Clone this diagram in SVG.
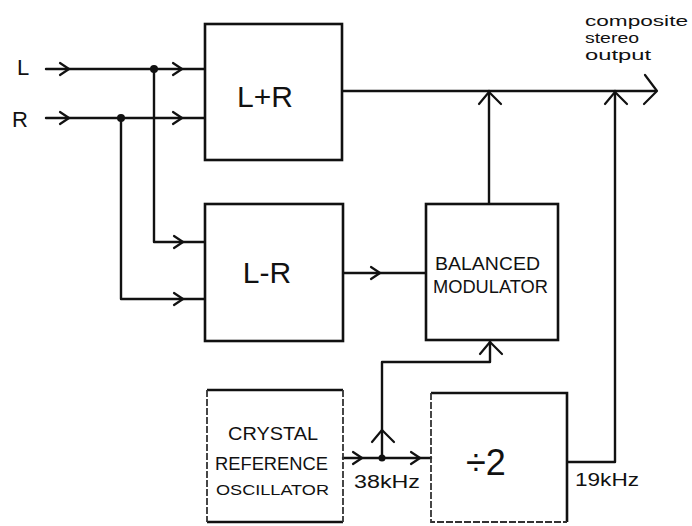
<svg xmlns="http://www.w3.org/2000/svg" width="692" height="526" viewBox="0 0 692 526">
<style>
.box{fill:#fff;stroke:#111;stroke-width:2.6;stroke-linejoin:miter}
.faint{fill:none;stroke:#333;stroke-width:1.8;stroke-dasharray:7 2}
.ln{fill:none;stroke:#111;stroke-width:2.4;stroke-linecap:round;stroke-linejoin:round}
.ch{fill:none;stroke:#111;stroke-width:2.2;stroke-linecap:round;stroke-linejoin:round}
.dot{fill:#111}
text{font-family:"Liberation Sans","DejaVu Sans",sans-serif;fill:#111}
.big{font-size:30px}
.lab{font-size:18px}
.hand{font-size:18px}
.cap{font-size:14px}
</style>
<defs>
<path id="chR" d="M-9,-6 L0,0 L-9,6" class="ch"/>
<path id="chU" d="M-10,12 L0,0 L12,12" class="ch"/>
</defs>

<g id="connectors">
<path class="ln" d="M46,69 L205,69"/>
<path class="ln" d="M154,69 L154,242 L205,242"/>
<path class="ln" d="M46,118 L205,118"/>
<path class="ln" d="M121,118 L121,299 L205,299"/>
<circle class="dot" cx="154" cy="69" r="4"/>
<circle class="dot" cx="121" cy="118" r="4"/>
<use href="#chR" x="69" y="69"/>
<use href="#chR" x="69" y="118"/>
<use href="#chR" x="182" y="69"/>
<use href="#chR" x="182" y="118"/>
<use href="#chR" x="183" y="242"/>
<use href="#chR" x="183" y="299"/>
<path class="ln" d="M342,91 L656,91"/>
<path class="ch" d="M645,75 L657,91 L644,104"/>
<path class="ln" d="M489,204 L489,91"/>
<use href="#chU" x="489" y="92"/>
<path class="ln" d="M567,462 L615,462 L615,91"/>
<use href="#chU" x="615" y="92"/>
<path class="ln" d="M343,273 L426,273"/>
<use href="#chR" x="380" y="273"/>
<path class="ln" d="M343,458 L431,458"/>
<use href="#chR" x="362" y="458"/>
<use href="#chR" x="420" y="458"/>
<circle class="dot" cx="382" cy="458" r="3.5"/>
<path class="ln" d="M382,458 L382,362 L490,362 L490,341"/>
<use href="#chU" x="382" y="430"/>
<use href="#chU" x="490" y="342"/>
</g>

<g id="input-L"><text x="17" y="75" font-size="22">L</text></g>
<g id="input-R"><text x="12" y="127" font-size="22">R</text></g>

<g id="node-LplusR">
<rect class="box" x="205" y="24" width="137" height="136"/>
<text class="big" x="265" y="107" text-anchor="middle">L+R</text>
</g>

<g id="node-LminusR">
<rect class="box" x="205" y="204" width="138" height="137"/>
<text class="big" x="267" y="283" text-anchor="middle">L-R</text>
</g>

<g id="node-balanced-modulator">
<rect class="box" x="426" y="204" width="132" height="136"/>
<text class="lab" x="435" y="270" textLength="105" lengthAdjust="spacingAndGlyphs">BALANCED</text>
<text class="lab" x="433" y="293" textLength="115" lengthAdjust="spacingAndGlyphs">MODULATOR</text>
</g>

<g id="node-crystal-oscillator">
<path class="box" d="M207,390 L343,390" fill="none"/>
<path class="box" d="M207,522 L343,522" fill="none"/>
<path class="faint" d="M207,390 L207,522 M343,390 L343,522"/>
<text class="lab" x="228" y="440" textLength="90" lengthAdjust="spacingAndGlyphs">CRYSTAL</text>
<text class="lab" x="215" y="470" textLength="113" lengthAdjust="spacingAndGlyphs">REFERENCE</text>
<text x="216" y="495" font-size="15" textLength="113" lengthAdjust="spacingAndGlyphs">OSCILLATOR</text>
</g>

<g id="node-divider">
<path class="box" d="M431,393 L567,393 L567,522" fill="none"/>
<path class="faint" d="M431,393 L431,522 L567,522"/>
<text x="486" y="475" font-size="36" text-anchor="middle">÷2</text>
</g>

<g id="labels">
<text class="hand" x="354" y="488" textLength="66" lengthAdjust="spacingAndGlyphs">38kHz</text>
<text class="hand" x="575" y="486" textLength="64" lengthAdjust="spacingAndGlyphs">19kHz</text>
<text class="cap" x="585" y="26" textLength="103" lengthAdjust="spacingAndGlyphs">composite</text>
<text class="cap" x="585" y="43" textLength="54" lengthAdjust="spacingAndGlyphs">stereo</text>
<text class="cap" x="585" y="60" textLength="66" lengthAdjust="spacingAndGlyphs">output</text>
</g>
</svg>
